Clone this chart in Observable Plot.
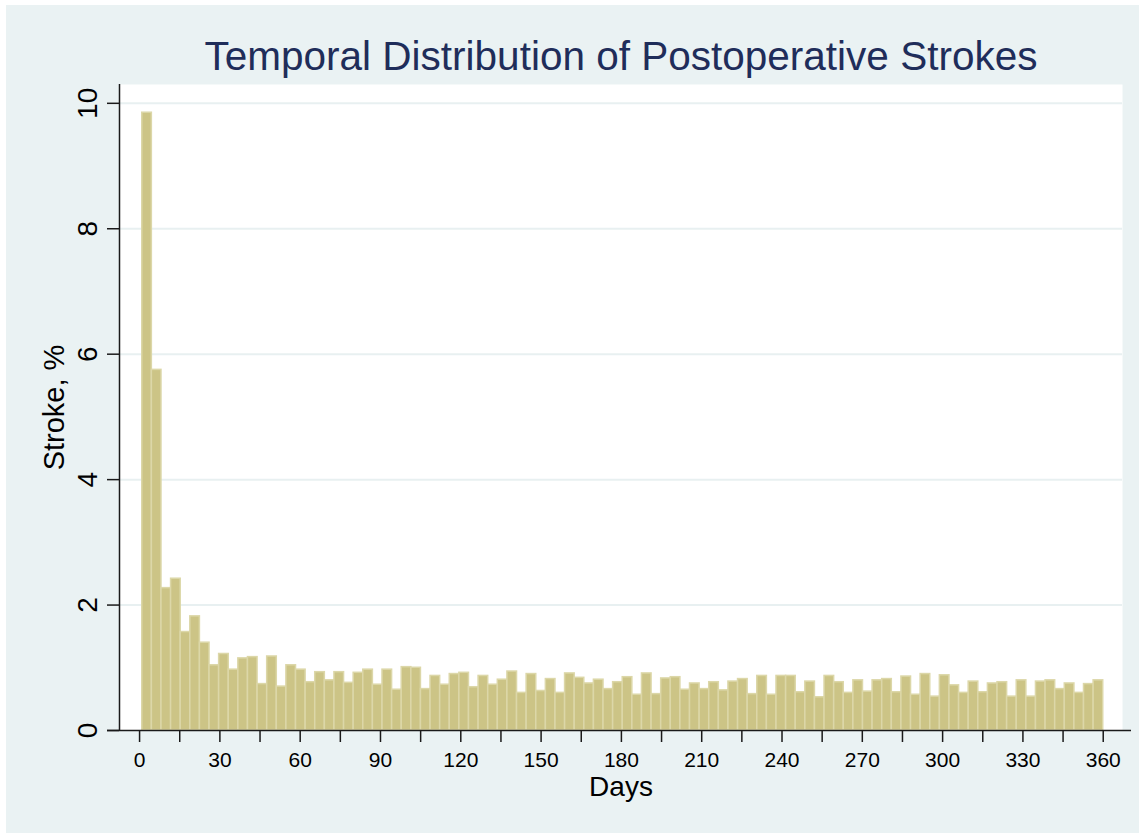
<!DOCTYPE html>
<html>
<head>
<meta charset="utf-8">
<script src="https://cdn.jsdelivr.net/npm/d3@7"></script>
<script src="https://cdn.jsdelivr.net/npm/@observablehq/plot@0.6"></script>
<style>
  html, body { margin: 0; padding: 0; background: #ffffff; }
  #page { position: absolute; left: 6px; top: 5px; width: 1133px; height: 828px; background: #eaf2f3; font-family: "Liberation Sans", Arial, sans-serif; }
  #title { height: 75px; box-sizing: border-box; padding-top: 31px; font-size: 40.5px; line-height: 40px; color: #1f2d5a; text-align: center; padding-left: 115px; padding-right: 18px; white-space: nowrap; }
  #chart svg { display: block; }
</style>
</head>
<body>
<div id="page">
  <div id="title">Temporal Distribution of Postoperative Strokes</div>
  <div id="chart"></div>
</div>
<script>
// Histogram: 100 bins of days 1..360
const binStart = 1;
const binWidth = 3.59;
const strokePct = [
  9.85, 5.75, 2.27, 2.42, 1.57, 1.82, 1.40, 1.04, 1.22, 0.97,
  1.15, 1.17, 0.74, 1.18, 0.70, 1.04, 0.97, 0.77, 0.93, 0.80,
  0.93, 0.76, 0.92, 0.97, 0.73, 0.97, 0.65, 1.01, 1.00, 0.66,
  0.87, 0.73, 0.90, 0.92, 0.69, 0.87, 0.73, 0.81, 0.94, 0.60,
  0.90, 0.63, 0.82, 0.60, 0.91, 0.84, 0.75, 0.81, 0.66, 0.77,
  0.85, 0.57, 0.91, 0.58, 0.83, 0.85, 0.65, 0.75, 0.66, 0.77,
  0.64, 0.78, 0.82, 0.58, 0.87, 0.57, 0.87, 0.87, 0.61, 0.78,
  0.53, 0.87, 0.77, 0.60, 0.80, 0.62, 0.80, 0.82, 0.61, 0.86,
  0.57, 0.90, 0.54, 0.88, 0.72, 0.60, 0.78, 0.61, 0.75, 0.77,
  0.54, 0.80, 0.54, 0.78, 0.80, 0.66, 0.75, 0.60, 0.74, 0.80
];
const xTicks = [0,15,30,45,60,75,90,105,120,135,150,165,180,195,210,225,240,255,270,285,300,315,330,345,360];
const xLabels = [0,30,60,90,120,150,180,210,240,270,300,330,360];
const yTicks = [0,2,4,6,8,10];

const bins = strokePct.map((v, i) => ({
  x1: binStart + i * binWidth,
  x2: binStart + (i + 1) * binWidth,
  y: v
}));

const xDomain = [-7.5, 367.2];
const axisColor = "#1a1a1a";

const chart = Plot.plot({
  width: 1133,
  height: 753,
  marginLeft: 113,
  marginRight: 17,
  marginTop: 4,
  marginBottom: 103,
  style: { background: "transparent", fontFamily: "Liberation Sans, Arial, sans-serif", color: "#000" },
  x: { domain: xDomain },
  y: { domain: [0, 10.3] },
  marks: [
    Plot.frame({ fill: "white", stroke: "none" }),
    Plot.gridY(yTicks.filter(d => d > 0), { stroke: "#e8f0f1", strokeOpacity: 1, strokeWidth: 2 }),
    Plot.rectY(bins, { x1: "x1", x2: "x2", y: "y", fill: "#ccc486", stroke: "#dcd7a8", strokeWidth: 1.5 }),
    Plot.ruleY([0], { stroke: axisColor, strokeWidth: 1.5, insetLeft: -12, insetRight: -9 }),
    Plot.ruleX([xDomain[0]], { stroke: axisColor, strokeWidth: 1.5 }),
    Plot.axisX({ ticks: xTicks, tickSize: 12, tickPadding: 10, fontSize: 21, stroke: axisColor, strokeWidth: 1.5,
      tickFormat: d => xLabels.includes(d) ? String(d) : "", label: null }),
    Plot.axisY({ ticks: yTicks, tickSize: 12, tickPadding: 11, tickRotate: -90, fontSize: 28, stroke: axisColor, strokeWidth: 1.5, label: null }),
    Plot.text(["Days"], { frameAnchor: "bottom", dy: 65, lineAnchor: "bottom", textAnchor: "middle", fontSize: 28, fill: "#000" }),
    Plot.text(["Stroke, %"], { frameAnchor: "left", dx: -56, rotate: -90, lineAnchor: "bottom", textAnchor: "middle", fontSize: 29, fill: "#000" })
  ]
});
document.getElementById("chart").appendChild(chart);
</script>
</body>
</html>
